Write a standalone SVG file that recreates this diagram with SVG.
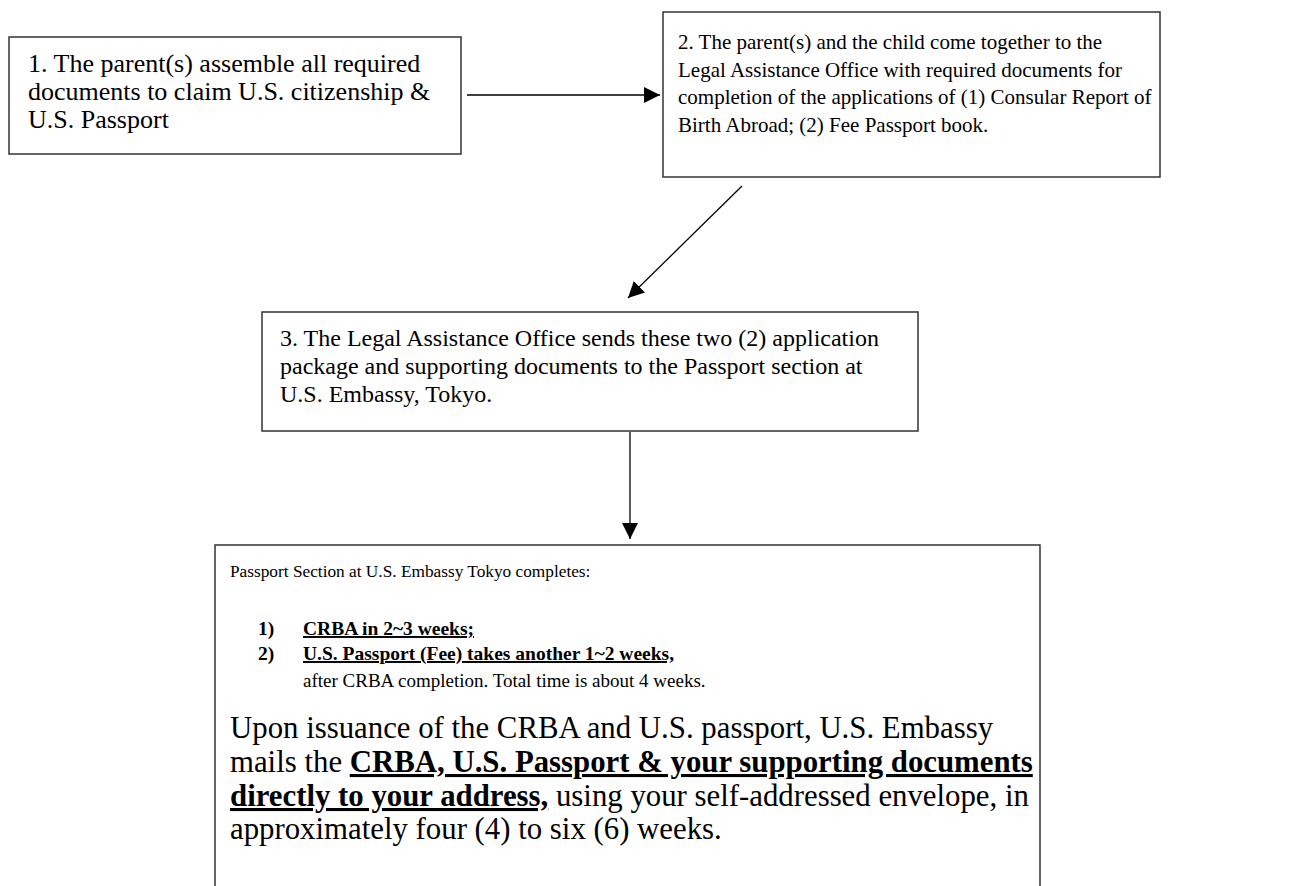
<svg xmlns="http://www.w3.org/2000/svg" width="1310" height="886" viewBox="0 0 1310 886">
<style>
.box{fill:#fff;stroke:#333;stroke-width:1.5}
.f{font-family:"Liberation Serif","Times New Roman",serif;fill:#000}
.t1{font-size:26px}
.t2{font-size:21px}
.t3{font-size:24px}
.s{font-size:17.3px}
.b{font-size:19.5px;font-weight:bold}
.a{font-size:19px}
.p{font-size:30.8px}
.pb{font-weight:bold;text-decoration:underline}
.c{stroke:#000;stroke-width:1.3;fill:none}
</style>
<defs>
<marker id="ah" viewBox="0 0 10 10" refX="10" refY="5" markerWidth="16" markerHeight="16" markerUnits="userSpaceOnUse" orient="auto">
<path d="M0,0 L10,5 L0,10 z" fill="#000"/>
</marker>
</defs>
<g id="connectors">
<line class="c" x1="467" y1="95" x2="660" y2="95" marker-end="url(#ah)"/>
<line class="c" x1="742" y1="186" x2="628" y2="298" marker-end="url(#ah)"/>
<line class="c" x1="630" y1="432" x2="630" y2="539" marker-end="url(#ah)"/>
</g>
<g id="node1">
<rect class="box" x="9" y="37" width="452" height="117"/>
<text class="f t1" x="28" y="72">1. The parent(s) assemble all required</text>
<text class="f t1" x="28" y="100">documents to claim U.S. citizenship &amp;</text>
<text class="f t1" x="28" y="128">U.S. Passport</text>
</g>
<g id="node2">
<rect class="box" x="663" y="12" width="497" height="165"/>
<text class="f t2" x="678" y="49">2. The parent(s) and the child come together to the</text>
<text class="f t2" x="678" y="77">Legal Assistance Office with required documents for</text>
<text class="f t2" x="678" y="104">completion of the applications of (1) Consular Report of</text>
<text class="f t2" x="678" y="132">Birth Abroad; (2) Fee Passport book.</text>
</g>
<g id="node3">
<rect class="box" x="262" y="312" width="656" height="119"/>
<text class="f t3" x="280" y="346">3. The Legal Assistance Office sends these two (2) application</text>
<text class="f t3" x="280" y="374">package and supporting documents to the Passport section at</text>
<text class="f t3" x="280" y="402">U.S. Embassy, Tokyo.</text>
</g>
<g id="node4">
<rect class="box" x="215" y="545" width="825" height="360"/>
<text class="f s" x="230" y="577">Passport Section at U.S. Embassy Tokyo completes:</text>
<text class="f b" x="258" y="635">1)</text>
<text class="f b" x="303" y="635" text-decoration="underline">CRBA in 2~3 weeks;</text>
<text class="f b" x="258" y="660">2)</text>
<text class="f b" x="303" y="660" text-decoration="underline">U.S. Passport (Fee) takes another 1~2 weeks,</text>
<text class="f a" x="303" y="687">after CRBA completion. Total time is about 4 weeks.</text>
<text class="f p" x="230" y="738">Upon issuance of the CRBA and U.S. passport, U.S. Embassy</text>
<text class="f p" x="230" y="772">mails the <tspan class="pb">CRBA, U.S. Passport &amp; your supporting documents</tspan></text>
<text class="f p" x="230" y="806"><tspan class="pb">directly to your address,</tspan> using your self-addressed envelope, in</text>
<text class="f p" x="230" y="839">approximately four (4) to six (6) weeks.</text>
</g>
</svg>
